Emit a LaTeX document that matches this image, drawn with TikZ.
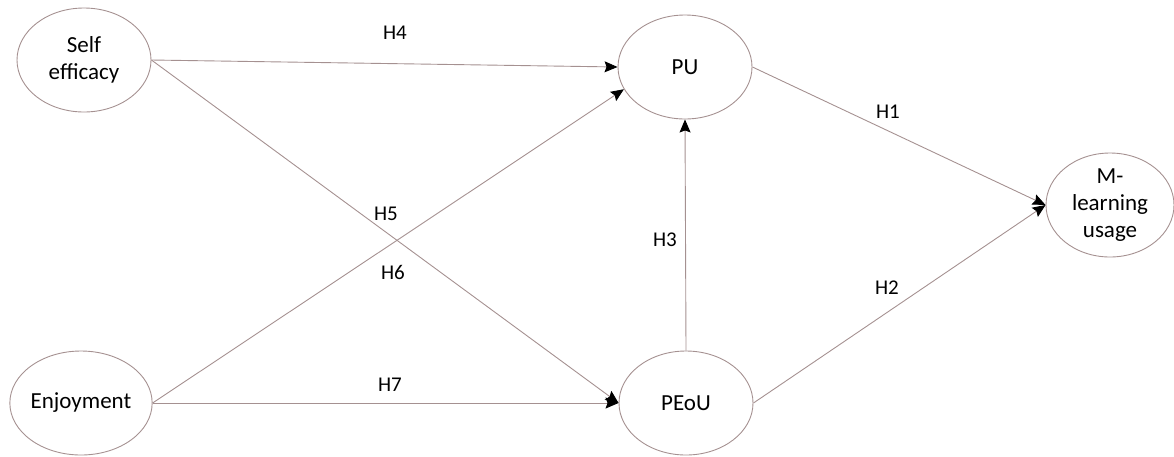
\documentclass[tikz,border=0pt]{standalone}
\usepackage{fontspec}
\setmainfont{Carlito}
\usepackage{tikz}
\usetikzlibrary{shapes.geometric,arrows.meta}
\definecolor{lncol}{RGB}{165,145,145}
\tikzset{
  construct/.style={ellipse, draw=lncol, line width=0.9pt, minimum width=134pt, minimum height=104pt, inner sep=0pt, align=center, font=\fontsize{23}{27}\selectfont},
  hyp/.style={draw=lncol, line width=0.9pt, -{Stealth[black,length=13pt,width=11pt,inset=2pt]}},
  hlabel/.style={font=\fontsize{21}{24}\selectfont}
}

\begin{document}
\begin{tikzpicture}[x=1pt, y=-1pt]
		\useasboundingbox (0,0) rectangle (1174,456);
		\node[construct] (self) at (84,60) {Self\\efficacy};
		\node[construct] (enjoy) at (81,403) {Enjoyment};
		\node[construct] (pu) at (685,67) {PU};
		\node[construct] (peou) at (686,403) {PEoU};
		\node[construct, minimum width=128pt] (mlu) at (1110,205) {M-\\learning\\usage};
		\draw[hyp] (self.east) -- (pu.west);
		\draw[hyp] (self.east) -- (peou.west);
		\draw[hyp] (enjoy.east) -- (pu.200);
		\draw[hyp] (enjoy.east) -- (peou.west);
		\draw[hyp] (peou.north) -- (pu.south);
		\draw[hyp] (pu.east) -- (mlu.west);
		\draw[hyp] (peou.east) -- (mlu.west);
		\node[hlabel] (h4) at (395,33) {H4};
		\node[hlabel] (h5) at (386,214) {H5};
		\node[hlabel] (h6) at (393,272) {H6};
		\node[hlabel] (h7) at (390,385) {H7};
		\node[hlabel] (h3) at (665,240) {H3};
		\node[hlabel] (h1) at (888,112) {H1};
		\node[hlabel] (h2) at (887,288) {H2};
\end{tikzpicture}
\end{document}
